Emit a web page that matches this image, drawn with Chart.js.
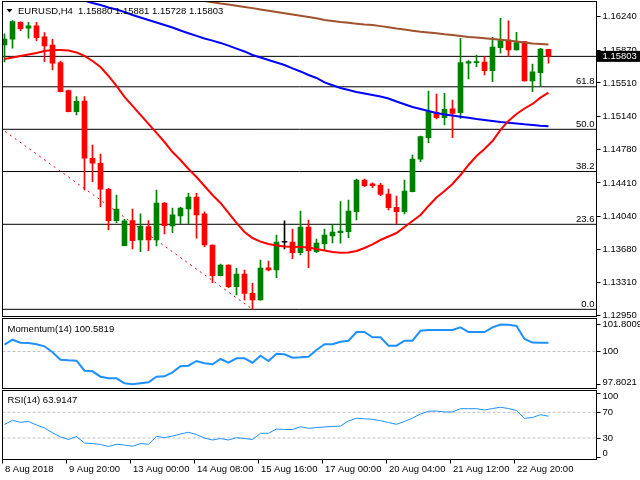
<!DOCTYPE html>
<html>
<head>
<meta charset="utf-8">
<script src="https://cdn.jsdelivr.net/npm/chart.js@4.4.0/dist/chart.umd.min.js"></script>
<style>
  body { margin: 0; background: #fff; }
  #wrap { position: relative; width: 640px; height: 480px; background: #fff; }
  #wrap canvas { position: absolute; left: 0; top: 0; }
</style>
</head>
<body>
<div id="wrap">
  <canvas id="mainChart" width="640" height="480"></canvas>
  <canvas id="momChart" width="640" height="480"></canvas>
  <canvas id="rsiChart" width="640" height="480"></canvas>
</div>
<script>
// EURUSD H4 candles, 8 Aug 12:00 .. 23 Aug 12:00
var opens = [1.15928, 1.15991, 1.16178, 1.16112, 1.16138, 1.16017, 1.15928, 1.15734, 1.15425, 1.15194,
  1.15312, 1.14681, 1.14626, 1.14340, 1.13994, 1.13719, 1.13994, 1.13781, 1.13928, 1.13781,
  1.14189, 1.13935, 1.14046, 1.14123, 1.14255, 1.14068, 1.13726, 1.13388, 1.13506, 1.13267,
  1.13407, 1.13194, 1.13121, 1.13476, 1.13451, 1.13756, 1.13759, 1.13641, 1.13924, 1.13652,
  1.13741, 1.13825, 1.13862, 1.13873, 1.14093, 1.14442, 1.14401, 1.14387, 1.14288, 1.14141,
  1.14093, 1.14313, 1.14670, 1.14908, 1.15183, 1.15128, 1.15224, 1.15183, 1.15727, 1.15734,
  1.15741, 1.15645, 1.15899, 1.15983, 1.15873, 1.15965, 1.15532, 1.15623, 1.15880];
var highs = [1.16050, 1.16196, 1.16182, 1.16178, 1.16178, 1.16064, 1.15991, 1.15752, 1.15433, 1.15359,
  1.15359, 1.14827, 1.14728, 1.14351, 1.14277, 1.14009, 1.14123, 1.14068, 1.13994, 1.14332,
  1.14192, 1.14134, 1.14141, 1.14295, 1.14295, 1.14090, 1.13728, 1.13517, 1.13508, 1.13470,
  1.13451, 1.13304, 1.13561, 1.13550, 1.13836, 1.13991, 1.13902, 1.14101, 1.14001, 1.13792,
  1.13902, 1.13946, 1.14203, 1.14222, 1.14453, 1.14453, 1.14412, 1.14406, 1.14343, 1.14266,
  1.14442, 1.14717, 1.14926, 1.15422, 1.15389, 1.15397, 1.15323, 1.16002, 1.15756, 1.15818,
  1.15800, 1.16013, 1.16222, 1.16193, 1.16068, 1.15967, 1.15719, 1.15892, 1.15881];
var lows = [1.15741, 1.15892, 1.16086, 1.16002, 1.15976, 1.15745, 1.15653, 1.15411, 1.15191, 1.15158,
  1.14332, 1.14423, 1.14148, 1.13891, 1.13972, 1.13719, 1.13682, 1.13652, 1.13663, 1.13715,
  1.13847, 1.13862, 1.13957, 1.13957, 1.13800, 1.13708, 1.13311, 1.13386, 1.13256, 1.13176,
  1.13121, 1.13018, 1.13119, 1.13440, 1.13366, 1.13682, 1.13575, 1.13616, 1.13476, 1.13641,
  1.13671, 1.13748, 1.13745, 1.13807, 1.14001, 1.14368, 1.14357, 1.14269, 1.14112, 1.13957,
  1.14068, 1.14311, 1.14643, 1.14853, 1.15114, 1.15048, 1.14908, 1.15121, 1.15554, 1.15689,
  1.15598, 1.15524, 1.15837, 1.15800, 1.15871, 1.15530, 1.15414, 1.15477, 1.15728];
var closes = [1.15994, 1.16185, 1.16108, 1.16138, 1.16009, 1.15917, 1.15727, 1.15414, 1.15194, 1.15308,
  1.14681, 1.14626, 1.14340, 1.13994, 1.14123, 1.13991, 1.13774, 1.13935, 1.13781, 1.14189,
  1.13939, 1.14057, 1.14134, 1.14255, 1.14057, 1.13726, 1.13388, 1.13506, 1.13267, 1.13407,
  1.13194, 1.13121, 1.13473, 1.13451, 1.13759, 1.13756, 1.13641, 1.13924, 1.13663, 1.13748,
  1.13836, 1.13869, 1.13880, 1.14101, 1.14442, 1.14379, 1.14379, 1.14284, 1.14137, 1.14093,
  1.14321, 1.14673, 1.14919, 1.15194, 1.15128, 1.15220, 1.15176, 1.15734, 1.15745, 1.15741,
  1.15645, 1.15906, 1.15976, 1.15873, 1.15954, 1.15532, 1.15634, 1.15884, 1.15803];

// moving averages
var maRed = [1.15774, 1.15791, 1.15807, 1.15824, 1.15840, 1.15862, 1.15873, 1.15873, 1.15868, 1.15846,
  1.15807, 1.15752, 1.15686, 1.15587, 1.15477, 1.15356, 1.15257, 1.15158, 1.15059, 1.14960,
  1.14860, 1.14750, 1.14662, 1.14563, 1.14475, 1.14376, 1.14277, 1.14189, 1.14079, 1.13969,
  1.13869, 1.13803, 1.13763, 1.13737, 1.13721, 1.13710, 1.13708, 1.13704, 1.13699, 1.13682,
  1.13666, 1.13649, 1.13642, 1.13644, 1.13660, 1.13693, 1.13732, 1.13781, 1.13820, 1.13858,
  1.13925, 1.13991, 1.14057, 1.14156, 1.14249, 1.14321, 1.14398, 1.14497, 1.14607, 1.14706,
  1.14783, 1.14871, 1.14993, 1.15092, 1.15169, 1.15229, 1.15279, 1.15348, 1.15403];
var maBlue = [null, null, null, null, null, null, null, null, null, null,
  1.16418, 1.16391, 1.16369, 1.16341, 1.16319, 1.16292, 1.16259, 1.16231, 1.16204, 1.16176,
  1.16149, 1.16121, 1.16088, 1.16057, 1.16028, 1.16000, 1.15976, 1.15951, 1.15921, 1.15888,
  1.15857, 1.15818, 1.15791, 1.15763, 1.15736, 1.15708, 1.15670, 1.15637, 1.15598, 1.15565,
  1.15516, 1.15485, 1.15455, 1.15433, 1.15411, 1.15394, 1.15378, 1.15361, 1.15339, 1.15306,
  1.15276, 1.15246, 1.15224, 1.15202, 1.15180, 1.15163, 1.15152, 1.15139, 1.15127, 1.15114,
  1.15103, 1.15092, 1.15081, 1.15073, 1.15064, 1.15055, 1.15048, 1.15039, 1.15033];
var maBrown = [null, null, null, null, null, null, null, null, null, null,
  null, null, null, null, null, null, null, null, null, null,
  null, null, null, null, null, 1.16413, 1.16399, 1.16385, 1.16374, 1.16360,
  1.16347, 1.16334, 1.16319, 1.16305, 1.16292, 1.16278, 1.16264, 1.16251, 1.16237, 1.16222,
  1.16204, 1.16193, 1.16182, 1.16173, 1.16163, 1.16154, 1.16149, 1.16136, 1.16123, 1.16110,
  1.16099, 1.16086, 1.16074, 1.16066, 1.16057, 1.16047, 1.16039, 1.16028, 1.16017, 1.16011,
  1.16003, 1.15995, 1.15986, 1.15978, 1.15967, 1.15956, 1.15945, 1.15939, 1.15934];

var momentum = [100.456, 100.791, 100.590, 100.570, 100.482, 100.348, 99.946, 99.451, 99.410, 99.384,
  98.714, 98.673, 98.312, 98.204, 98.204, 97.869, 97.8021, 97.869, 97.936, 98.312,
  98.338, 98.606, 99.008, 99.049, 99.364, 99.209, 99.142, 99.498, 99.250, 99.544,
  99.544, 99.250, 99.719, 99.364, 99.853, 99.812, 99.585, 99.611, 99.652, 100.101,
  100.482, 100.482, 100.657, 100.724, 101.307, 101.307, 100.951, 100.951, 100.389, 100.389,
  100.724, 100.724, 101.394, 101.441, 101.441, 101.441, 101.441, 101.621, 101.307, 101.307,
  101.307, 101.621, 101.8009, 101.790, 101.709, 100.838, 100.600, 100.590, 100.5819];
var rsi = [51.0, 57.5, 54.4, 55.7, 50.2, 45.6, 38.2, 31.6, 27.7, 32.3,
  22.2, 21.4, 19.9, 16.8, 20.2, 19.1, 17.1, 21.4, 20.2, 32.6,
  30.5, 33.1, 36.2, 38.9, 35.4, 30.0, 26.9, 29.2, 26.9, 30.5,
  29.2, 27.7, 37.3, 37.3, 44.0, 43.2, 43.2, 47.6, 45.1, 46.3,
  47.1, 47.9, 48.7, 56.5, 60.7, 59.9, 59.1, 56.9, 54.1, 51.3,
  55.7, 61.1, 67.4, 71.6, 72.0, 70.5, 70.5, 75.6, 75.6, 75.6,
  73.6, 75.9, 77.8, 75.9, 72.8, 60.7, 61.9, 66.3, 63.9147];

// fibonacci retracement drawn on the chart
var fibLabels = ['0.0', '23.6', '38.2', '50.0', '61.8'];
var fibPrices = [1.13018, 1.13954, 1.14535, 1.15000, 1.15468];
var fibHigh = 1.16982, fibLow = 1.13018;

var priceTicks = [1.12950, 1.13310, 1.13680, 1.14040, 1.14410, 1.14780, 1.15140, 1.15510, 1.15870, 1.16240];
var momTicks = [97.8021, 100, 101.8009];
var rsiTicks = [0, 30, 70, 100];
var timeLabels = ['8 Aug 2018', '9 Aug 20:00', '13 Aug 00:00', '14 Aug 08:00', '15 Aug 16:00',
  '17 Aug 00:00', '20 Aug 04:00', '21 Aug 12:00', '22 Aug 20:00'];

var GREEN = '#008000', RED = '#ff0000';
var FONT_FAMILY = '"Liberation Sans", Arial, sans-serif';
var FONT = '9.5px ' + FONT_FAMILY;
var xMin = -0.25, xMax = 74;
var AXIS_W = 43.5;

Chart.defaults.font.family = FONT_FAMILY;
Chart.defaults.font.size = 9.5;
Chart.defaults.color = '#000';

function pts(arr) {
  return arr.map(function (v, i) { return { x: i, y: v }; });
}
function hline(v) {
  return [{ x: xMin, y: v }, { x: xMax, y: v }];
}

var candleColors = opens.map(function (o, i) {
  if (closes[i] > o) return GREEN;
  if (closes[i] < o) return RED;
  return '#000';
});

function frame(chart) {
  var a = chart.chartArea, ctx = chart.ctx;
  ctx.save();
  ctx.strokeStyle = '#000';
  ctx.lineWidth = 1;
  ctx.strokeRect(a.left, a.top, a.right - a.left, a.bottom - a.top);
  ctx.restore();
}

function sideLabels(chart, values, fmt) {
  var a = chart.chartArea, ctx = chart.ctx, y = chart.scales.y;
  ctx.save();
  ctx.font = FONT;
  ctx.fillStyle = '#000';
  ctx.textAlign = 'left';
  ctx.textBaseline = 'middle';
  values.forEach(function (v) {
    var py = y.getPixelForValue(v);
    py = Math.max(a.top + 6, Math.min(a.bottom - 6, py));
    ctx.fillText(fmt(v), a.right + 6, py);
  });
  ctx.restore();
}

var mainDecor = {
  id: 'mainDecor',
  afterDraw: function (chart) {
    var ctx = chart.ctx, a = chart.chartArea, y = chart.scales.y;
    frame(chart);
    ctx.save();
    ctx.fillStyle = '#000';
    ctx.beginPath();
    ctx.moveTo(6.5, 9); ctx.lineTo(12.5, 9); ctx.lineTo(9.5, 12.5); ctx.closePath();
    ctx.fill();
    ctx.font = FONT;
    ctx.textBaseline = 'middle';
    ctx.fillText('EURUSD,H4', 18, 11);
    var n = closes.length - 1;
    ctx.fillText([opens[n], highs[n], lows[n], closes[n]].map(function (v) { return v.toFixed(5); }).join(' '), 78, 11);

    ctx.textAlign = 'right';
    ctx.textBaseline = 'alphabetic';
    fibPrices.forEach(function (p, k) {
      ctx.fillText(fibLabels[k], a.right - 2, y.getPixelForValue(p) - 2.5);
    });

    var py = y.getPixelForValue(closes[n]);
    ctx.fillRect(a.right + 0.5, py - 5.5, 640 - a.right, 11);
    ctx.fillStyle = '#fff';
    ctx.textAlign = 'left';
    ctx.textBaseline = 'middle';
    ctx.fillText(closes[n].toFixed(5), a.right + 6, py);
    ctx.restore();
  }
};

var mainDatasets = [];
fibPrices.forEach(function (p) {
  mainDatasets.push({ type: 'line', data: hline(p), borderColor: '#000', borderWidth: 1, pointRadius: 0, order: 10, clip: 0 });
});
mainDatasets.push({ type: 'line', data: hline(closes[closes.length - 1]), borderColor: '#000', borderWidth: 1, pointRadius: 0, order: 10, clip: 0 });
mainDatasets.push({ type: 'line', data: [{ x: -31.6, y: fibHigh }, { x: 31, y: fibLow }], borderColor: RED, borderWidth: 1, borderDash: [2, 4], pointRadius: 0, order: 9, clip: 0 });
mainDatasets.push({
  type: 'bar', grouped: false, barThickness: 1, order: 5,
  data: opens.map(function (o, i) { return { x: i, y: [lows[i], highs[i]] }; }),
  backgroundColor: candleColors
});
mainDatasets.push({
  type: 'bar', grouped: false, barThickness: 5, minBarLength: 1, order: 4,
  data: opens.map(function (o, i) { return { x: i, y: [o, closes[i]] }; }),
  backgroundColor: candleColors
});
mainDatasets.push({ type: 'line', data: pts(maBrown), borderColor: '#a0522d', borderWidth: 2, pointRadius: 0, order: 3, clip: 0 });
mainDatasets.push({ type: 'line', data: pts(maBlue), borderColor: '#0000ff', borderWidth: 2, pointRadius: 0, order: 2, clip: 0 });
mainDatasets.push({ type: 'line', data: pts(maRed), borderColor: RED, borderWidth: 2, pointRadius: 0, order: 1, clip: 0 });

var hiddenX = { type: 'linear', min: xMin, max: xMax, display: false, offset: false };

function rightAxis(min, max, tickVals, showLabels) {
  return {
    position: 'right', min: min, max: max,
    afterBuildTicks: function (s) { s.ticks = tickVals.map(function (v) { return { value: v }; }); },
    afterFit: function (s) { s.width = AXIS_W; s.paddingTop = 0; s.paddingBottom = 0; },
    grid: { drawOnChartArea: false, tickLength: 4, color: '#000' },
    border: { display: false },
    ticks: { display: showLabels, padding: 2, autoSkip: false, color: '#000',
      callback: function (v) { return v.toFixed(5); } }
  };
}

var common = {
  responsive: false, animation: false, devicePixelRatio: 1,
  plugins: { legend: { display: false }, tooltip: { enabled: false } }
};

new Chart(document.getElementById('mainChart'), {
  type: 'bar',
  data: { datasets: mainDatasets },
  options: Object.assign({}, common, {
    layout: { padding: { left: 2.5, right: 0, top: 1.5, bottom: 480 - 316.5 } },
    scales: { x: hiddenX, y: rightAxis(1.12939, 1.16407, priceTicks, true) }
  }),
  plugins: [mainDecor]
});

// Momentum(14)
new Chart(document.getElementById('momChart'), {
  type: 'line',
  data: { datasets: [
    { data: hline(100), borderColor: '#c0c0c0', borderWidth: 1, borderDash: [3, 2], pointRadius: 0, clip: 0, order: 2 },
    { data: pts(momentum), borderColor: '#1e90ff', borderWidth: 2, pointRadius: 0, clip: 0, order: 1 }
  ] },
  options: Object.assign({}, common, {
    layout: { padding: { left: 2.5, right: 0, top: 318.5, bottom: 480 - 388.5 } },
    scales: { x: hiddenX, y: rightAxis(97.521, 102.211, momTicks, false) }
  }),
  plugins: [{
    id: 'momDecor',
    afterDraw: function (chart) {
      frame(chart);
      sideLabels(chart, momTicks, function (v) { return v === 100 ? '100' : v.toFixed(4); });
      var ctx = chart.ctx;
      ctx.save();
      ctx.font = FONT; ctx.fillStyle = '#000'; ctx.textBaseline = 'middle';
      ctx.fillText('Momentum(14) ' + momentum[momentum.length - 1].toFixed(4), 7.5, 329);
      ctx.restore();
    }
  }]
});

// RSI(14) with the time axis
var rsiY = rightAxis(-3.46, 103.93, rsiTicks, false);
new Chart(document.getElementById('rsiChart'), {
  type: 'line',
  data: { datasets: [
    { data: hline(70), borderColor: '#c0c0c0', borderWidth: 1, borderDash: [3, 2], pointRadius: 0, clip: 0, order: 3 },
    { data: hline(30), borderColor: '#c0c0c0', borderWidth: 1, borderDash: [3, 2], pointRadius: 0, clip: 0, order: 2 },
    { data: pts(rsi), borderColor: '#1e90ff', borderWidth: 1, pointRadius: 0, clip: 0, order: 1 }
  ] },
  options: Object.assign({}, common, {
    layout: { padding: { left: 2.5, right: 0, top: 390.5, bottom: 0 } },
    scales: {
      x: {
        type: 'linear', min: xMin, max: xMax, position: 'bottom', offset: false,
        afterBuildTicks: function (s) { s.ticks = timeLabels.map(function (t, k) { return { value: k * 8 - 0.2 }; }); },
        afterFit: function (s) { s.height = 20.5; s.paddingLeft = 0; s.paddingRight = 0; },
        grid: { drawOnChartArea: false, tickLength: 4, color: '#000' },
        border: { display: false },
        ticks: { align: 'start', labelOffset: 2, padding: 0, maxRotation: 0, autoSkip: false, color: '#000',
          callback: function (v, idx) { return timeLabels[idx]; } }
      },
      y: rsiY
    }
  }),
  plugins: [{
    id: 'rsiDecor',
    afterDraw: function (chart) {
      frame(chart);
      sideLabels(chart, rsiTicks, function (v) { return String(v); });
      var ctx = chart.ctx;
      ctx.save();
      ctx.font = FONT; ctx.fillStyle = '#000'; ctx.textBaseline = 'middle';
      ctx.fillText('RSI(14) ' + rsi[rsi.length - 1].toFixed(4), 7.5, 400);
      ctx.restore();
    }
  }]
});
</script>
</body>
</html>
